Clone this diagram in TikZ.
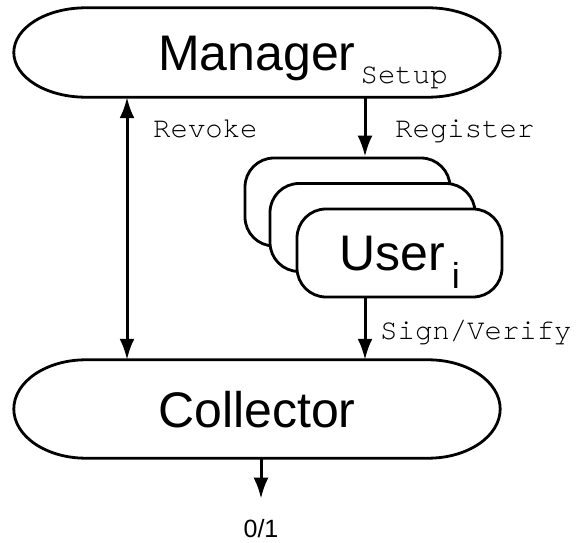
\documentclass[tikz,border=0pt]{standalone}
\usepackage{fontspec}
\setmainfont{Liberation Sans}
\newfontfamily\monofont{texgyrecursor-regular.otf}
\usepackage{tikz}
\usetikzlibrary{positioning}
\usetikzlibrary{arrows.meta}
\usetikzlibrary{calc}

% outline with elliptic ends round a terminal node
\newcommand{\termline}[1]{%
\draw[line width=2.8pt] let \p1=(#1.north), \p2=(#1.south), \n1={0.5*(\y1-\y2)} in
 ($(#1.north west)+(72pt,0)$) -- ($(#1.north east)+(-72pt,0)$)
 arc[start angle=90, end angle=-90, x radius=72pt, y radius=\n1]
 -- ($(#1.south west)+(72pt,0)$)
 arc[start angle=270, end angle=90, x radius=72pt, y radius=\n1] -- cycle;}

\begin{document}
\begin{tikzpicture}[x=1pt, y=1pt,
term/.style={minimum width=486pt, minimum height=#1, inner sep=0pt, text height=36pt, text depth=0pt, font=\fontsize{50}{50}\selectfont},
usr/.style={draw, line width=2.8pt, fill=white, rounded corners=29pt, minimum width=205pt, minimum height=88pt, inner sep=0pt, text height=36pt, text depth=0pt, font=\fontsize{50}{50}\selectfont},
lbl/.style={anchor=base west, inner sep=0pt, font=\monofont\fontsize{29}{29}\selectfont},
arr/.style={line width=3pt, -{Latex[length=21pt,width=15pt]}},
arrs/.style={line width=3pt, {Latex[length=21pt,width=15pt]}-{Latex[length=21pt,width=15pt]}}]
\useasboundingbox (0,0) rectangle (582,542);

% terminals
\node [term=89pt](manager) at (257,489.5) {Manager\rlap{\raisebox{-13pt}{\hspace{5pt}\monofont\fontsize{29}{29}\selectfont Setup}}};
\termline{manager}
\node [term=98pt](collector) at (257,133) {Collector};
\termline{collector}

% users, back to front
\node [usr](userA) at (347.5,340) {};
\node [usr](userB) at (372.5,314.5) {};
\node [usr](userC) at (399.5,289) {User\hspace{7pt}\raisebox{-18pt}{\fontsize{36}{36}\selectfont i}};

% arrows
\draw[arrs] ([xshift=-130pt]manager.south) -- ([xshift=-130pt]collector.north);
\draw[arr] ([xshift=108pt]manager.south) -- ([xshift=108pt]manager.south |- userA.north);
\draw[arr] ([xshift=-34.5pt]userC.south) -- ([xshift=-34.5pt]userC.south |- collector.north);

\node [inner sep=0pt, anchor=base, font=\fontsize{25}{25}\selectfont](result) at (261,5) {0/1};
\draw[arr,shorten >=20pt] (result.north |- collector.south) -- (result.north);

% labels
\node [lbl](revoke) at (153,404) {Revoke};
\node [lbl](register) at (395,404) {Register};
\node [lbl](sign) at (380,202) {Sign/Verify};
\end{tikzpicture}
\end{document}
